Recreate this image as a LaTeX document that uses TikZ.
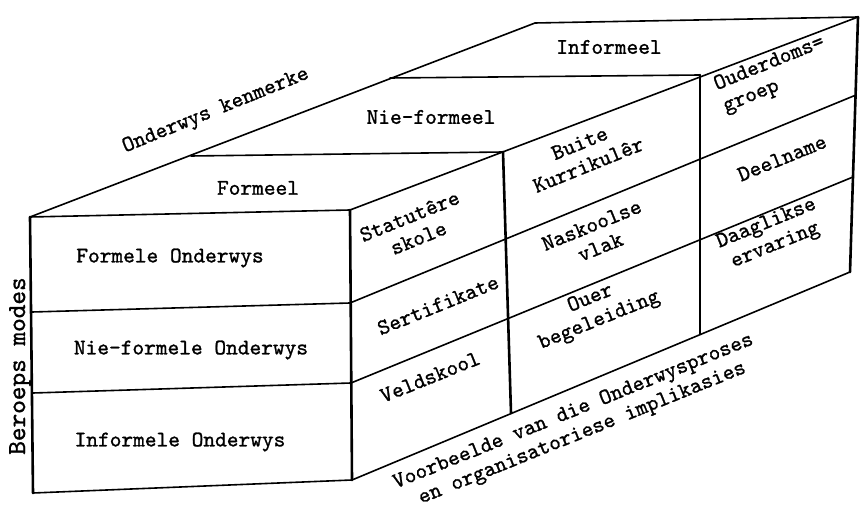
\documentclass[tikz,border=0pt]{standalone}
\usepackage{fontspec}
\setmonofont{lmmono10-regular.otf}[FakeBold=1.2]
\tikzset{
  edge/.style={line width=1.6pt, line cap=round, line join=round},
  post/.style={line width=2.6pt, line cap=round},
  lbl/.style={font=\ttfamily\fontsize{22.3}{23.5}\selectfont, inner sep=0pt, align=center},
  face/.style={lbl, rotate=22},
}
\begin{document}
\begin{tikzpicture}[x=1pt,y=-1pt]
\useasboundingbox (0,0) rectangle (861,510);

% corners of the block
\coordinate (ftl) at (30,217);
\coordinate (ftr) at (350,210);
\coordinate (fbr) at (352,480);
\coordinate (fbl) at (33,493);
\coordinate (btl) at (535,23);
\coordinate (btr) at (858,17);
\coordinate (bbr) at (850,272);

% slab boundaries on the top face
\coordinate (s1l) at (191,156);
\coordinate (s1r) at (503,152);
\coordinate (s2l) at (390,78);
\coordinate (s2r) at (700,75);
\coordinate (s1b) at (511,413);
\coordinate (s2b) at (700,334);

% row boundaries on the front and side faces
\coordinate (r1l) at (32,312);
\coordinate (r1m) at (350,303);
\coordinate (r1r) at (856,95);
\coordinate (r2l) at (33,393);
\coordinate (r2m) at (351,383);
\coordinate (r2r) at (853,177);

% top face
\draw[edge] (ftl) -- (btl) -- (btr);
\draw[edge] (ftl) -- (ftr) -- (btr);
\draw[edge] (s1l) -- (s1r);
\draw[edge] (s2l) -- (s2r);

% front face
\draw[edge] (fbl) -- (fbr);
\draw[edge] (r1l) -- (r1m);
\draw[edge] (r2l) -- (r2m);

% side face
\draw[edge] (fbr) -- (bbr);
\draw[edge] (r1m) -- (r1r);
\draw[edge] (r2m) -- (r2r);

% vertical edges
\draw[post] (ftl) -- (fbl);
\draw[post] (ftr) -- (fbr);
\draw[post] (s1r) -- (s1b);
\draw[post] (s2r) -- (s2b);
\draw[post] (btr) -- (bbr);

% top face labels
\node[lbl] (tInf) at (609,47) {Informeel};
\node[lbl] (tNie) at (431,117) {Nie-formeel};
\node[lbl] (tFor) at (258,188) {Formeel};
\node[lbl, rotate=22] (kenm) at (216,111) {Onderwys kenmerke};

% front face labels
\node[lbl] (fFor) at (170,258) {Formele Onderwys};
\node[lbl] (fNie) at (191,350) {Nie-formele Onderwys};
\node[lbl] (fInf) at (180,442) {Informele Onderwys};
\node[lbl, font=\ttfamily\fontsize{26}{28}\selectfont, rotate=90] (modes) at (20,366) {Beroeps modes};

% side face labels
\node[face] (c11) at (414,227) {Statutêre\\skole};
\node[face] (c12) at (438,305) {Sertifikate};
\node[face] (c13) at (430,377) {Veldskool};
\node[face] (c21) at (584,154) {Buite\\Kurrikulêr};
\node[face] (c22) at (596,236) {Naskoolse\\vlak};
\node[face] (c23) at (595,310) {Ouer\\begeleiding};
\node[face, align=left] (c31) at (774,75) {Ouderdoms=\\groep};
\node[face] (c32) at (782,158) {Deelname};
\node[face] (c33) at (771,235) {Daaglikse\\ervaring};

% caption under the side face
\node[face] (voorb) at (578,423) {Voorbeelde van die Onderwysproses\\en organisatoriese implikasies};
\end{tikzpicture}
\end{document}
